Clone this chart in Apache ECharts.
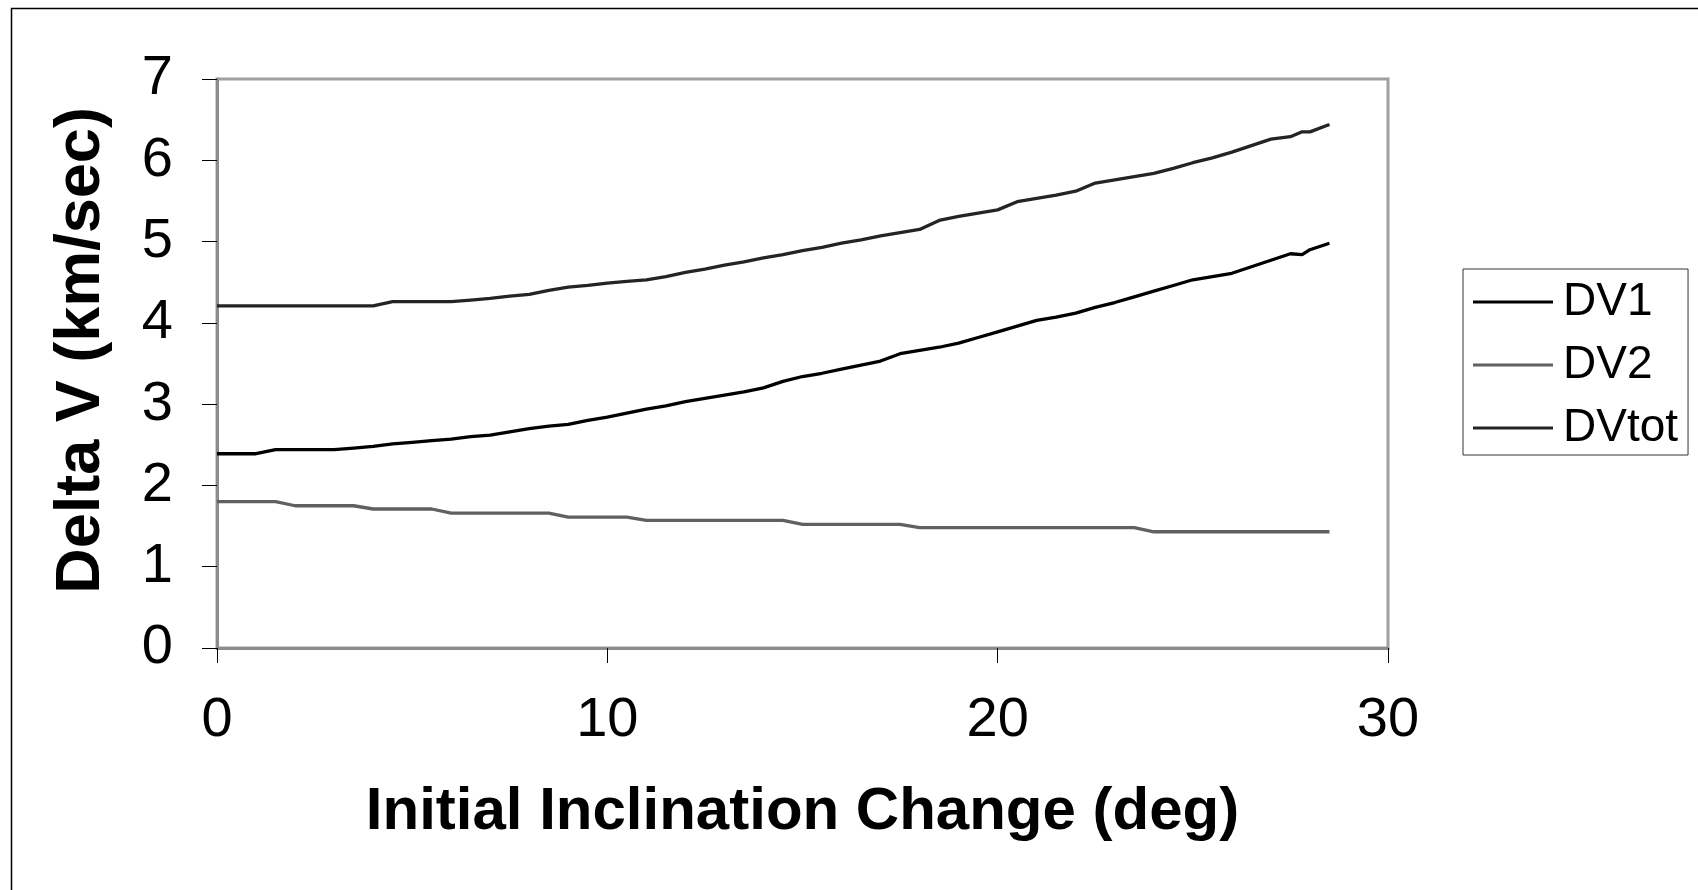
<!DOCTYPE html>
<html lang="en">

<head>
  <meta charset="UTF-8">
  <title>Delta V vs Initial Inclination Change</title>
  <style>
    body { margin: 0; background: #fff; }
  </style>
</head>

<body>
  <div id="main" style="width: 1698px;height:890px;"></div>

  <script src="https://cdn.jsdelivr.net/npm/echarts/dist/echarts.min.js"></script>

  <script type="text/javascript">
    // inclination change (deg)
    var incl = [0, 0.5, 1, 1.5, 2, 2.5, 3, 3.5, 4, 4.5, 5, 5.5, 6, 6.5, 7, 7.5, 8, 8.5, 9, 9.5,
      10, 10.5, 11, 11.5, 12, 12.5, 13, 13.5, 14, 14.5, 15, 15.5, 16, 16.5, 17, 17.5, 18, 18.5, 19, 19.5,
      20, 20.5, 21, 21.5, 22, 22.5, 23, 23.5, 24, 24.5, 25, 25.5, 26, 26.5, 27, 27.5, 27.8, 28, 28.5];

    // km/sec
    var dv1 = [2.39, 2.39, 2.39, 2.44, 2.44, 2.44, 2.44, 2.46, 2.48, 2.51, 2.53, 2.55, 2.57, 2.60, 2.62, 2.66, 2.70, 2.73, 2.75, 2.80,
      2.84, 2.89, 2.94, 2.98, 3.03, 3.07, 3.11, 3.15, 3.20, 3.28, 3.34, 3.38, 3.43, 3.48, 3.53, 3.62, 3.66, 3.70, 3.75, 3.82,
      3.89, 3.96, 4.03, 4.07, 4.12, 4.19, 4.25, 4.32, 4.39, 4.46, 4.53, 4.57, 4.61, 4.69, 4.77, 4.85, 4.84, 4.90, 4.98];

    var dv2 = [1.80, 1.80, 1.80, 1.80, 1.75, 1.75, 1.75, 1.75, 1.71, 1.71, 1.71, 1.71, 1.66, 1.66, 1.66, 1.66, 1.66, 1.66, 1.61, 1.61,
      1.61, 1.61, 1.57, 1.57, 1.57, 1.57, 1.57, 1.57, 1.57, 1.57, 1.52, 1.52, 1.52, 1.52, 1.52, 1.52, 1.48, 1.48, 1.48, 1.48,
      1.48, 1.48, 1.48, 1.48, 1.48, 1.48, 1.48, 1.48, 1.43, 1.43, 1.43, 1.43, 1.43, 1.43, 1.43, 1.43, 1.43, 1.43, 1.43];

    var dvtot = [4.21, 4.21, 4.21, 4.21, 4.21, 4.21, 4.21, 4.21, 4.21, 4.26, 4.26, 4.26, 4.26, 4.28, 4.30, 4.33, 4.35, 4.40, 4.44, 4.46,
      4.49, 4.51, 4.53, 4.57, 4.62, 4.66, 4.71, 4.75, 4.80, 4.84, 4.89, 4.93, 4.98, 5.02, 5.07, 5.11, 5.15, 5.26, 5.31, 5.35,
      5.39, 5.49, 5.53, 5.57, 5.62, 5.72, 5.76, 5.80, 5.84, 5.90, 5.97, 6.03, 6.10, 6.18, 6.26, 6.29, 6.35, 6.35, 6.44];

    var seriesNames = ['DV1', 'DV2', 'DVtot'];
    var seriesColors = ['#000000', '#606060', '#242424'];

    var myChart = echarts.init(document.getElementById('main'));
    myChart.setOption(setOption());

    function pairs(ys) {
      return incl.map(function (x, i) {
        return [x, ys[i]];
      });
    }

    function setOption() {
      var font = 'Liberation Sans, Arial, sans-serif';
      var values = [dv1, dv2, dvtot];

      var series = seriesNames.map(function (name, i) {
        return {
          name: name,
          type: 'line',
          symbol: 'none',
          data: pairs(values[i]),
          lineStyle: {
            color: seriesColors[i],
            width: 3.3
          },
          itemStyle: {
            color: seriesColors[i]
          },
          animation: false
        };
      });

      return {
        backgroundColor: '#fff',
        animation: false,
        textStyle: {
          fontFamily: font
        },
        // outer frame of the picture
        graphic: [{
          type: 'rect',
          left: 9,
          top: 6,
          shape: { width: 1800, height: 1000 },
          style: { fill: 'none', stroke: '#000', lineWidth: 1.5 },
          silent: true
        }],
        grid: {
          left: 217,
          top: 79,
          width: 1171,
          height: 569,
          show: true,
          borderColor: '#a0a0a0',
          borderWidth: 3
        },
        legend: {
          orient: 'vertical',
          left: 1463,
          top: 269,
          padding: [10, 10, 4, 10],
          // plain line sample, no marker
          icon: 'path://M0,0 L80,0 L80,3 L0,3 Z',
          itemWidth: 80,
          itemHeight: 3,
          itemGap: 17,
          borderColor: '#333',
          borderWidth: 1,
          borderRadius: 0,
          data: seriesNames,
          textStyle: {
            fontSize: 46,
            lineHeight: 46,
            color: '#000',
            padding: [0, 0, 0, 5]
          }
        },
        xAxis: {
          type: 'value',
          min: 0,
          max: 30,
          interval: 10,
          name: 'Initial Inclination Change (deg)',
          nameLocation: 'middle',
          nameGap: 134,
          nameTextStyle: {
            fontSize: 60,
            fontWeight: 'bold',
            color: '#000'
          },
          axisLine: {
            show: true,
            lineStyle: { color: '#8c8c8c', width: 3 }
          },
          axisTick: {
            show: true,
            length: 15,
            lineStyle: { color: '#000', width: 1 }
          },
          axisLabel: {
            fontSize: 56,
            color: '#000',
            margin: 45
          },
          splitLine: { show: false }
        },
        yAxis: {
          type: 'value',
          min: 0,
          max: 7,
          interval: 1,
          name: 'Delta V (km/sec)',
          nameLocation: 'middle',
          nameGap: 104,
          nameTextStyle: {
            fontSize: 63,
            fontWeight: 'bold',
            color: '#000',
            padding: [0, 0, 0, 26]
          },
          axisLine: {
            show: true,
            lineStyle: { color: '#8c8c8c', width: 3 }
          },
          axisTick: {
            show: true,
            length: 15,
            lineStyle: { color: '#000', width: 1 }
          },
          axisLabel: {
            fontSize: 56,
            color: '#000',
            margin: 44,
            padding: [0, 0, 10, 0]
          },
          splitLine: { show: false }
        },
        series: series
      };
    }
  </script>
</body>

</html>
